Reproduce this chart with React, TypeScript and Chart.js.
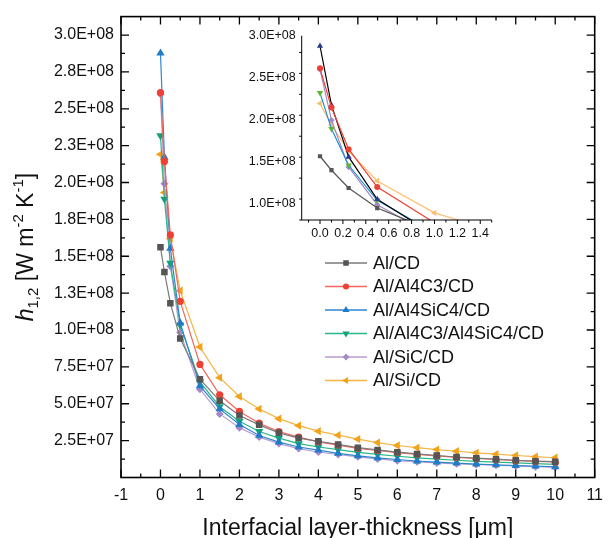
import React, { useEffect, useRef } from "react";
import { Chart, registerables } from "chart.js";

Chart.register(...registerables);

const FONT = "'Liberation Sans', Arial, sans-serif";

// ---- data ----
const xValues = [0, 0.1, 0.25, 0.5, 1, 1.5, 2, 2.5, 3, 3.5, 4, 4.5, 5, 5.5, 6, 6.5, 7, 7.5, 8, 8.5, 9, 9.5, 10];
const seriesNames = ["Al/CD", "Al/Al4C3/CD", "Al/Al4SiC4/CD", "Al/Al4C3/Al4SiC4/CD", "Al/SiC/CD", "Al/Si/CD"];
const alCD = [1.561e8, 1.394e8, 1.182e8, 0.943e8, 6.66e7, 5.2e7, 4.2e7, 3.57e7, 3.03e7, 2.67e7, 2.45e7, 2.24e7, 2.02e7, 1.87e7, 1.72e7, 1.6e7, 1.49e7, 1.39e7, 1.31e7, 1.24e7, 1.17e7, 1.11e7, 1.07e7];
const alAl4C3CD = [2.61e8, 2.143e8, 1.645e8, 1.194e8, 7.67e7, 5.61e7, 4.48e7, 3.68e7, 3.12e7, 2.74e7, 2.42e7, 2.2e7, 1.98e7, 1.83e7, 1.69e7, 1.57e7, 1.46e7, 1.37e7, 1.29e7, 1.22e7, 1.15e7, 1.1e7, 1.05e7];
const alAl4SiC4CD = [2.877e8, 2.171e8, 1.553e8, 1.047e8, 6.21e7, 4.65e7, 3.59e7, 2.85e7, 2.4e7, 2.07e7, 1.85e7, 1.64e7, 1.47e7, 1.33e7, 1.22e7, 1.12e7, 1.04e7, 0.97e7, 0.91e7, 0.86e7, 0.81e7, 0.77e7, 0.73e7];
const alAl4C3Al4SiC4CD = [2.318e8, 1.888e8, 1.453e8, 1.035e8, 6.48e7, 4.8e7, 3.81e7, 3.12e7, 2.67e7, 2.3e7, 2.07e7, 1.89e7, 1.7e7, 1.57e7, 1.44e7, 1.33e7, 1.24e7, 1.17e7, 1.1e7, 1.04e7, 0.99e7, 0.94e7, 0.89e7];
const alSiCCD = [2.598e8, 1.992e8, 1.433e8, 0.983e8, 5.99e7, 4.31e7, 3.37e7, 2.74e7, 2.3e7, 1.96e7, 1.73e7, 1.56e7, 1.4e7, 1.26e7, 1.14e7, 1.06e7, 0.99e7, 0.93e7, 0.88e7, 0.83e7, 0.78e7, 0.73e7, 0.69e7];
const alSiCD = [2.191e8, 1.932e8, 1.621e8, 1.266e8, 8.85e7, 6.77e7, 5.49e7, 4.65e7, 3.99e7, 3.52e7, 3.14e7, 2.87e7, 2.6e7, 2.37e7, 2.17e7, 2.02e7, 1.89e7, 1.78e7, 1.67e7, 1.58e7, 1.49e7, 1.41e7, 1.34e7];
const allSeries = [alCD, alAl4C3CD, alAl4SiC4CD, alAl4C3Al4SiC4CD, alSiCCD, alSiCD];

// ---- tick labels ----
const xTickValues = [-1, 0, 1, 2, 3, 4, 5, 6, 7, 8, 9, 10, 11];
const xTickLabels = ["-1", "0", "1", "2", "3", "4", "5", "6", "7", "8", "9", "10", "11"];
const yTickValues = [2.5e7, 5e7, 7.5e7, 1e8, 1.25e8, 1.5e8, 1.75e8, 2e8, 2.25e8, 2.5e8, 2.75e8, 3e8];
const yTickLabels = ["2.5E+07", "5.0E+07", "7.5E+07", "1.0E+08", "1.3E+08", "1.5E+08", "1.8E+08", "2.0E+08", "2.3E+08", "2.5E+08", "2.8E+08", "3.0E+08"];
const insetXTickValues = [0, 0.2, 0.4, 0.6, 0.8, 1.0, 1.2, 1.4];
const insetXTickLabels = ["0.0", "0.2", "0.4", "0.6", "0.8", "1.0", "1.2", "1.4"];
const insetYTickValues = [1e8, 1.5e8, 2e8, 2.5e8, 3e8];
const insetYTickLabels = ["1.0E+08", "1.5E+08", "2.0E+08", "2.5E+08", "3.0E+08"];

// ---- styles ----
const markerStyles = ["rect", "circle", "triangle", "triangle", "rectRot", "triangle"];
const markerRotations = [0, 0, 0, 180, 0, -90];
const markerRadii = [4.6, 3.6, 4.8, 4.8, 4.0, 4.8];
const markerColors = ["#555555", "#ee4035", "#1f7cc7", "#10a37a", "#a588c6", "#f2a31b"];
const lineColors = ["#7a7a7a", "#f2665c", "#2e86cf", "#2bb68a", "#b89ed2", "#f5b445"];
const insetMarkerColors = ["#555555", "#ee4035", "#2b3990", "#5cb531", "#a588c6", "#fdbf6f"];
const insetLineColors = ["#555555", "#ee4035", "#000000", "#1b8fd3", "#a588c6", "#fdbf6f"];
const insetRadii = [3, 3, 3.6, 3.6, 3.2, 3.6];

function drawMarker(ctx: CanvasRenderingContext2D, style: string, rotation: number, x: number, y: number, r: number, color: string) {
  ctx.save();
  ctx.translate(x, y);
  ctx.rotate((rotation * Math.PI) / 180);
  ctx.beginPath();
  if (style === "rect") {
    const s = r * Math.SQRT1_2;
    ctx.rect(-s, -s, 2 * s, 2 * s);
  } else if (style === "circle") {
    ctx.arc(0, 0, r, 0, Math.PI * 2);
  } else if (style === "triangle") {
    let a = 0;
    ctx.moveTo(Math.sin(a) * r, -Math.cos(a) * r);
    a += (2 * Math.PI) / 3;
    ctx.lineTo(Math.sin(a) * r, -Math.cos(a) * r);
    a += (2 * Math.PI) / 3;
    ctx.lineTo(Math.sin(a) * r, -Math.cos(a) * r);
    ctx.closePath();
  } else {
    ctx.moveTo(-r, 0);
    ctx.lineTo(0, -r);
    ctx.lineTo(r, 0);
    ctx.lineTo(0, r);
    ctx.closePath();
  }
  ctx.fillStyle = color;
  ctx.fill();
  ctx.restore();
}

const mainDecor = {
  id: "mainDecor",
  afterDraw(chart: any) {
    const { ctx, chartArea: a, scales } = chart;
    const x = scales.x;
    const y = scales.y;
    ctx.save();
    // frame
    ctx.strokeStyle = "#000";
    ctx.lineWidth = 1.6;
    ctx.strokeRect(a.left, a.top, a.right - a.left, a.bottom - a.top);
    // ticks
    ctx.lineWidth = 1.3;
    ctx.beginPath();
    const xMinor: number[] = [];
    for (let i = 0; i < xTickValues.length - 1; i++) xMinor.push((xTickValues[i] + xTickValues[i + 1]) / 2);
    const tickX = (v: number, L: number) => {
      const px = x.getPixelForValue(v);
      ctx.moveTo(px, a.bottom);
      ctx.lineTo(px, a.bottom - L);
      ctx.moveTo(px, a.top);
      ctx.lineTo(px, a.top + L);
    };
    xTickValues.forEach((v) => tickX(v, 8));
    xMinor.forEach((v) => tickX(v, 4));
    const tickY = (v: number, L: number) => {
      const py = y.getPixelForValue(v);
      ctx.moveTo(a.left, py);
      ctx.lineTo(a.left + L, py);
      ctx.moveTo(a.right, py);
      ctx.lineTo(a.right - L, py);
    };
    yTickValues.forEach((v) => tickY(v, 8));
    const step = yTickValues[1] - yTickValues[0];
    yTickValues.forEach((v) => tickY(v - step / 2, 4));
    ctx.stroke();

    // x title
    ctx.fillStyle = "#111";
    ctx.font = `23px ${FONT}`;
    ctx.textAlign = "center";
    ctx.textBaseline = "alphabetic";
    ctx.fillText("Interfacial layer-thickness [μm]", (a.left + a.right) / 2, 535);

    // y title (rich text, rotated)
    const parts = [
      { t: "h", size: 23, italic: true, dy: 0 },
      { t: "1,2", size: 15, italic: false, dy: 5 },
      { t: " [W m", size: 23, italic: false, dy: 0 },
      { t: "-2", size: 15, italic: false, dy: -10 },
      { t: " K", size: 23, italic: false, dy: 0 },
      { t: "-1", size: 15, italic: false, dy: -10 },
      { t: "]", size: 23, italic: false, dy: 0 },
    ];
    let total = 0;
    const widths = parts.map((p) => {
      ctx.font = `${p.italic ? "italic " : ""}${p.size}px ${FONT}`;
      const w = ctx.measureText(p.t).width;
      total += w;
      return w;
    });
    ctx.save();
    ctx.translate(25, (a.top + a.bottom) / 2);
    ctx.rotate(-Math.PI / 2);
    ctx.textAlign = "left";
    let cx = -total / 2;
    parts.forEach((p, i) => {
      ctx.font = `${p.italic ? "italic " : ""}${p.size}px ${FONT}`;
      ctx.fillText(p.t, cx, 8 + p.dy);
      cx += widths[i];
    });
    ctx.restore();

    // legend
    const lx0 = 325;
    const lx1 = 367;
    const ly0 = 263;
    const lstep = 23.5;
    ctx.font = `18px ${FONT}`;
    ctx.textAlign = "left";
    ctx.textBaseline = "middle";
    seriesNames.forEach((name, i) => {
      const ly = ly0 + i * lstep;
      ctx.strokeStyle = lineColors[i];
      ctx.lineWidth = 1.5;
      ctx.beginPath();
      ctx.moveTo(lx0, ly);
      ctx.lineTo(lx1, ly);
      ctx.stroke();
      drawMarker(ctx, markerStyles[i], markerRotations[i], (lx0 + lx1) / 2, ly, markerRadii[i] * 0.85, markerColors[i]);
      ctx.fillStyle = "#111";
      ctx.fillText(name, 373, ly + 1);
    });
    ctx.restore();
  },
};

const insetDecor = {
  id: "insetDecor",
  afterDraw(chart: any) {
    const { ctx, chartArea: a, scales } = chart;
    const x = scales.x;
    const y = scales.y;
    ctx.save();
    ctx.strokeStyle = "#000";
    ctx.lineWidth = 1;
    ctx.beginPath();
    ctx.moveTo(a.left, a.top);
    ctx.lineTo(a.left, a.bottom);
    ctx.lineTo(a.right, a.bottom);
    const xs = insetXTickValues[1] - insetXTickValues[0];
    for (let v = insetXTickValues[0] - xs / 2; v <= x.max + 1e-9; v += xs / 2) {
      if (v < x.min) continue;
      const px = x.getPixelForValue(v);
      const major = insetXTickValues.some((t) => Math.abs(t - v) < 1e-6);
      ctx.moveTo(px, a.bottom);
      ctx.lineTo(px, a.bottom + (major ? 4 : 2.5));
    }
    const ys = insetYTickValues[1] - insetYTickValues[0];
    for (let v = y.min; v <= y.max + 1; v += ys / 2) {
      const py = y.getPixelForValue(v);
      const major = insetYTickValues.some((t) => Math.abs(t - v) < 1);
      ctx.moveTo(a.left, py);
      ctx.lineTo(a.left - (major ? 4 : 2.5), py);
    }
    ctx.stroke();
    ctx.restore();
  },
};

export default function App() {
  const mainRef = useRef<HTMLCanvasElement>(null);
  const insetRef = useRef<HTMLCanvasElement>(null);

  useEffect(() => {
    document.body.style.margin = "0";
    const mainChart = new Chart(mainRef.current as HTMLCanvasElement, {
      type: "line",
      data: {
        datasets: allSeries.map((s, i) => ({
          label: seriesNames[i],
          data: s.map((v, j) => ({ x: xValues[j], y: v })),
          borderColor: lineColors[i],
          backgroundColor: markerColors[i],
          borderWidth: 1.2,
          pointStyle: markerStyles[i] as any,
          rotation: markerRotations[i],
          pointRadius: markerRadii[i],
          pointBorderWidth: 0,
          pointBackgroundColor: markerColors[i],
          pointBorderColor: markerColors[i],
          tension: 0,
          fill: false,
        })),
      },
      options: {
        animation: false,
        responsive: false,
        maintainAspectRatio: false,
        events: [],
        layout: { padding: { left: 0, right: 9.3, top: 12, bottom: 0 } },
        plugins: { legend: { display: false }, tooltip: { enabled: false } },
        scales: {
          x: {
            type: "linear",
            min: -1,
            max: 11,
            grid: { display: false, drawTicks: false },
            border: { display: false },
            ticks: {
              font: { family: FONT, size: 16 },
              color: "#111",
              padding: 8,
              autoSkip: false,
              maxRotation: 0,
              callback: (v: any) => xTickLabels[xTickValues.indexOf(Number(v))] ?? "",
            },
            afterBuildTicks: (s: any) => {
              s.ticks = xTickValues.map((v) => ({ value: v }));
            },
            afterFit: (s: any) => {
              s.height = 60.5;
            },
          },
          y: {
            type: "linear",
            min: 0,
            max: 3.125e8,
            grid: { display: false, drawTicks: false },
            border: { display: false },
            ticks: {
              font: { family: FONT, size: 16 },
              color: "#111",
              padding: 7,
              autoSkip: false,
              callback: (v: any) => yTickLabels[yTickValues.indexOf(Number(v))] ?? "",
            },
            afterBuildTicks: (s: any) => {
              s.ticks = yTickValues.map((v) => ({ value: v }));
            },
            afterFit: (s: any) => {
              s.width = 121;
            },
          },
        },
      },
      plugins: [mainDecor],
    } as any);

    const insetChart = new Chart(insetRef.current as HTMLCanvasElement, {
      type: "line",
      data: {
        datasets: allSeries.map((s, i) => ({
          label: seriesNames[i],
          data: s.map((v, j) => ({ x: xValues[j], y: v })),
          borderColor: insetLineColors[i],
          backgroundColor: insetMarkerColors[i],
          borderWidth: 1.2,
          pointStyle: markerStyles[i] as any,
          rotation: markerRotations[i],
          pointRadius: insetRadii[i],
          pointBorderWidth: 0,
          pointBackgroundColor: insetMarkerColors[i],
          tension: 0,
          fill: false,
        })),
      },
      options: {
        animation: false,
        responsive: false,
        maintainAspectRatio: false,
        events: [],
        layout: { padding: { left: 0, right: 13.3, top: 20.7, bottom: 0 } },
        plugins: { legend: { display: false }, tooltip: { enabled: false } },
        scales: {
          x: {
            type: "linear",
            min: -0.16,
            max: 1.5,
            grid: { display: false, drawTicks: false },
            border: { display: false },
            ticks: {
              font: { family: FONT, size: 12.5 },
              color: "#111",
              padding: 6,
              autoSkip: false,
              maxRotation: 0,
              callback: (v: any) => {
                const i = insetXTickValues.findIndex((t) => Math.abs(t - Number(v)) < 1e-6);
                return i >= 0 ? insetXTickLabels[i] : "";
              },
            },
            afterBuildTicks: (s: any) => {
              s.ticks = insetXTickValues.map((v) => ({ value: v }));
            },
            afterFit: (s: any) => {
              s.height = 30;
            },
          },
          y: {
            type: "linear",
            min: 0.8e8,
            max: 3.0e8,
            grid: { display: false, drawTicks: false },
            border: { display: false },
            ticks: {
              font: { family: FONT, size: 12.5 },
              color: "#111",
              padding: 6,
              autoSkip: false,
              callback: (v: any) => insetYTickLabels[insetYTickValues.indexOf(Number(v))] ?? "",
            },
            afterBuildTicks: (s: any) => {
              s.ticks = insetYTickValues.map((v) => ({ value: v }));
            },
            afterFit: (s: any) => {
              s.width = 71.7;
            },
          },
        },
      },
      plugins: [insetDecor],
    } as any);

    return () => {
      mainChart.destroy();
      insetChart.destroy();
    };
  }, []);

  return (
    <div style={{ position: "relative", width: 611, height: 538, background: "#fff" }}>
      <canvas ref={mainRef} width={611} height={538} style={{ position: "absolute", left: 0, top: 0, width: 611, height: 538 }} />
      <canvas ref={insetRef} width={275} height={235} style={{ position: "absolute", left: 230, top: 15, width: 275, height: 235 }} />
    </div>
  );
}
